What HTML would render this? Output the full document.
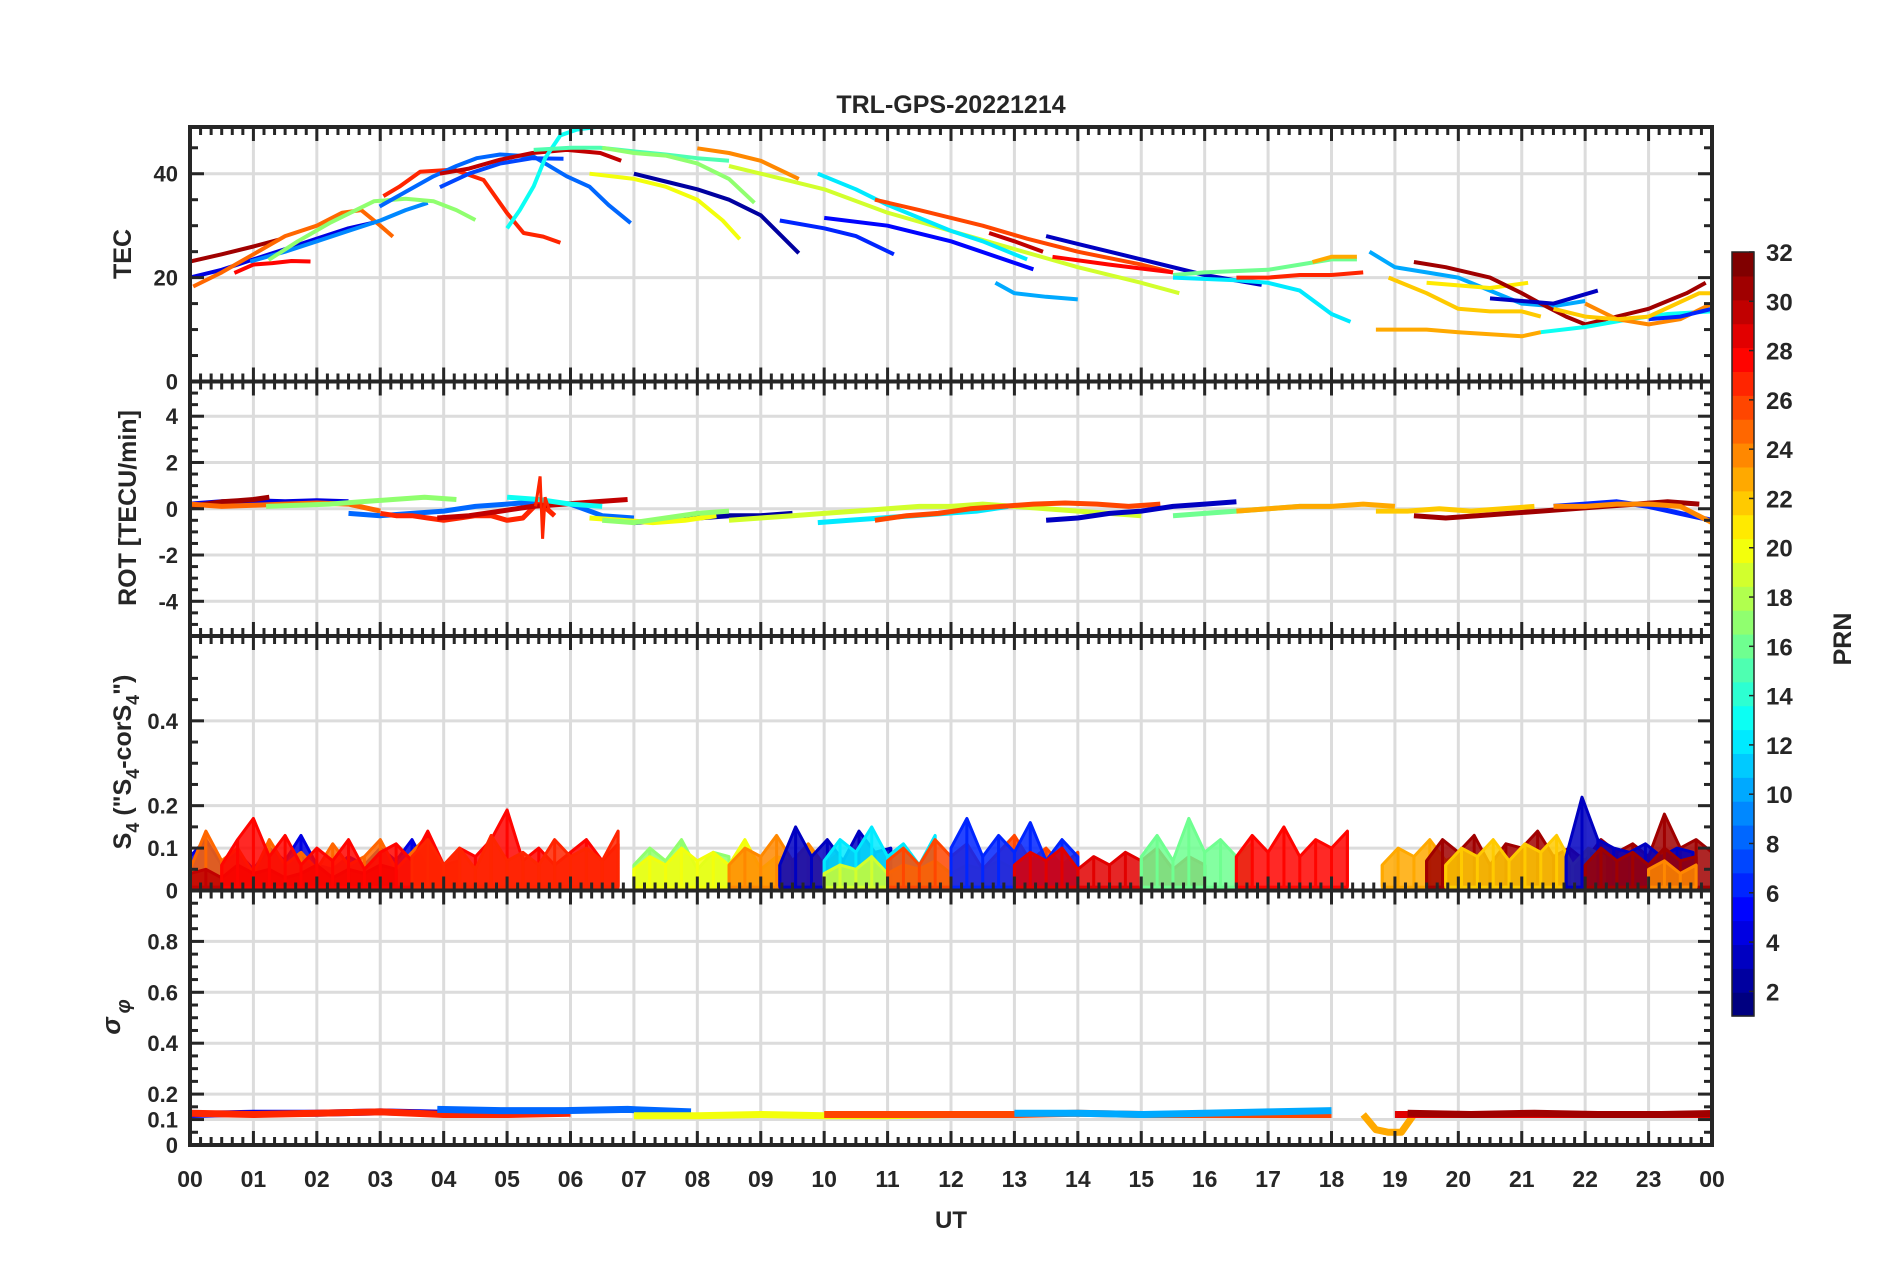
<!DOCTYPE html>
<html><head><meta charset="utf-8"><title>TRL-GPS-20221214</title>
<style>
html,body{margin:0;padding:0;background:#fff;}
svg{display:block;}
text{font-family:"Liberation Sans",Arial,sans-serif;font-weight:bold;fill:#262626;}
</style></head>
<body>
<svg id="chart" width="1902" height="1272" viewBox="0 0 1902 1272" xmlns="http://www.w3.org/2000/svg">
<rect width="1902" height="1272" fill="#fff"/>
<text x="951" y="113" text-anchor="middle" font-size="25">TRL-GPS-20221214</text>
<g id="layer"></g>
</svg>
<script>
// ---------- DATA ----------
const xTickLabels = ["00","01","02","03","04","05","06","07","08","09","10","11","12","13","14","15","16","17","18","19","20","21","22","23","00"];
const tecTicks = [0,20,40];
const rotTicks = [-4,-2,0,2,4];
const s4Ticks = [0,0.1,0.2,0.4];
const sigTicks = [0,0.1,0.2,0.4,0.6,0.8];
const prnTicks = [2,4,6,8,10,12,14,16,18,20,22,24,26,28,30,32];

const tecPrn = [31,4,25,28,9,17,27,8,7,30,13,15,20,17,2,24,19,12,6,5,26,10,30,3,28,16,12,27,23,10,23,22,21,31,3,13,24,6,22];
const tecHours = [
[0,0.5,1,1.4],
[0,0.5,1,1.5,2,2.5,2.9],
[0.05,0.5,1,1.5,2,2.4,2.7,3,3.2],
[0.7,1,1.3,1.6,1.9],
[0.95,1.5,2,2.5,3,3.4,3.75],
[1.24,1.7,2.2,2.9,3.4,3.84,4.2,4.5],
[3.05,3.3,3.63,4.16,4.63,5.0,5.26,5.57,5.84],
[2.99,3.4,3.84,4.2,4.52,4.89,5.42,5.94,6.3,6.6,6.95],
[3.94,4.4,4.9,5.4,5.89],
[3.94,4.4,4.89,5.4,5.94,6.47,6.8],
[5.0,5.2,5.42,5.6,5.84,6.1,6.4,6.75],
[5.42,6,6.47,7,7.5,8,8.5],
[6.3,7,7.5,8,8.4,8.67],
[6.5,7,7.5,8,8.5,8.9],
[7.0,7.5,8,8.5,9,9.6],
[8.0,8.5,9,9.6],
[8.5,9,10,11,12,13,14,15,15.6],
[9.9,10.5,11,12,12.5,13.2],
[9.3,10,10.5,11.1],
[10,11,12,13.3],
[10.8,11.5,12.5,13.2,14,15,15.5],
[12.7,13,13.5,14],
[12.6,13,13.45],
[13.5,14,15,16,16.9],
[13.6,14.5,15.5],
[15.5,16,17,17.5,18,18.4],
[15.5,16.5,17,17.5,18,18.3],
[16.5,17,17.5,18,18.5],
[17.7,18,18.4],
[18.6,19,19.5,20,20.5,21,21.5,22],
[18.7,19.5,20,21,21.3],
[18.9,19.5,20,20.5,21,21.3],
[19.5,20,20.5,21.1],
[19.3,19.8,20.5,21,21.3,21.7,22,22.5,23,23.6,23.9],
[20.5,21,21.5,22.2],
[21.3,22,22.7,23.3,24],
[22,22.5,23,23.5,24],
[23,23.5,24],
[21.5,22,22.5,23,23.8,24]
];
const tecValues = [
[23.1,24.5,26,27.3],
[20,21.5,23.5,25.5,27.5,29.5,30.6],
[18.3,21,24.5,28,30,32.5,33,30,27.9],
[20.9,22.5,22.8,23.2,23.1],
[23.1,25,27,29,31,33,34.4],
[23.4,27,30.5,34.7,35.2,34.7,33,31.1],
[35.7,37.5,40.4,40.8,38.8,32.4,28.6,27.9,26.7],
[33.7,36.5,39.5,41.5,43,43.7,43.3,39.5,37.5,34,30.5],
[37.4,40,42,43,42.9],
[40,41,42.7,44,44.6,44,42.5],
[29.5,33,37.6,43,47.4,48.5,49,49],
[44.6,45,45,44.3,43.7,43,42.5],
[40,39,37.5,35,31,27.4],
[45,44,43.5,42,39,34.4],
[40,38.5,37,35,32,24.7],
[44.9,44,42.5,39],
[41.5,40,37,32.5,29,25.5,22,19,17],
[40,37,34,29,27,23.5],
[31,29.5,28,24.5],
[31.5,30,27,21.6],
[35,33,30,27.5,25,22.5,21],
[19,17,16.3,15.8],
[28.6,27,25],
[28,26.5,23.5,20.5,18.6],
[24,22.5,21],
[20.5,21,21.5,22.5,23.5,23.5],
[20,19.5,19,17.5,13,11.5],
[20,20,20.5,20.5,21],
[23,24,24],
[25,22,21,20,17.5,15,14.5,15.5],
[10,10,9.5,8.7,9.5],
[20,17,14,13.5,13.5,12.5],
[19,18.5,18,19],
[23,22,20,17,15,12.5,11,12.5,14,17,19],
[16,15.5,15,17.5],
[9.5,10.5,12,13,13.5],
[15,12,11,12,15],
[12,12.5,14],
[14,12.5,12,12.5,17,17]
];

const rotPrn = [4,31,25,8,17,27,30,13,2,20,17,19,12,26,3,16,23,22,31,6,24];
const rotStart = [0,0,0,2.5,1.2,3.0,3.9,5.0,7.0,6.3,6.5,8.5,9.9,10.8,13.5,15.5,16.5,18.7,19.3,21.5,21.5];
const rotStep = [0.5,0.25,0.5,0.5,0.5,0.25,0.5,0.5,0.5,0.5,0.5,0.5,0.5,0.5,0.5,0.5,0.5,0.5,0.5,0.5,0.5];
const rotValues = [
[0.2,0.3,0.35,0.3,0.35,0.3],
[0.1,0.2,0.3,0.35,0.4,0.5],
[0.2,0.1,0.15,0.2,0.25,0.2,-0.1],
[-0.2,-0.3,-0.2,-0.1,0.1,0.2,0.3,0.2,-0.3,-0.4],
[0.1,0.15,0.2,0.3,0.4,0.5,0.4],
[-0.2,-0.3,-0.3,-0.4,-0.5,-0.4,-0.3,-0.3,-0.5,-0.4,0.3,-0.3],
[-0.4,-0.3,-0.1,0.1,0.2,0.3,0.4],
[0.5,0.4,0.2,0.1],
[-0.6,-0.5,-0.4,-0.3,-0.3,-0.2],
[-0.4,-0.5,-0.6,-0.5,-0.3],
[-0.5,-0.6,-0.4,-0.2,-0.1],
[-0.5,-0.4,-0.3,-0.2,-0.1,0,0.1,0.1,0.2,0.1,0,-0.1,-0.2,-0.3],
[-0.6,-0.5,-0.4,-0.3,-0.2,-0.1,0.1],
[-0.5,-0.3,-0.2,0,0.1,0.2,0.25,0.2,0.1,0.2],
[-0.5,-0.4,-0.2,-0.1,0.1,0.2,0.3],
[-0.3,-0.2,-0.1,0,0.1,0.1],
[-0.1,0,0.1,0.1,0.2,0.1],
[-0.1,-0.1,0,-0.1,0,0.1],
[-0.3,-0.4,-0.3,-0.2,-0.1,0,0.1,0.2,0.3,0.2],
[0.1,0.2,0.3,0.1,-0.2,-0.5],
[0.1,0.1,0.2,0.2,0.1,-0.6]
];
const rotSpikeHours = [5.45,5.52,5.56,5.6,5.66];
const rotSpikeValues = [0.1,1.4,-1.3,0.5,0.0];

const s4Prn = [4,25,30,28,27,17,20,24,3,12,19,26,6,29,16,28,23,31,22,3,31,24];
const s4Start = [0,0,0,0.5,3.5,7.0,7.0,8.5,9.3,10,10,11,12,13,15,16.5,18.8,19.5,19.8,21.7,22,23];
const s4Values = [
[0.08,0.12,0.06,0.09,0.05,0.1,0.07,0.13,0.06,0.05,0.08,0.06,0.1,0.07,0.12,0.05],
[0.05,0.14,0.07,0.1,0.04,0.12,0.06,0.09,0.05,0.11,0.06,0.08,0.12,0.05,0.09,0.13,0.06,0.07],
[0.04,0.05,0.03,0.06,0.04,0.05,0.03,0.04,0.06,0.03,0.05,0.04,0.06,0.05],
[0.06,0.12,0.17,0.08,0.13,0.06,0.1,0.07,0.12,0.05,0.09,0.11,0.07,0.14,0.06,0.1,0.08,0.12,0.19,0.07,0.1,0.06,0.09,0.12,0.07,0.11],
[0.08,0.12,0.06,0.1,0.05,0.13,0.07,0.09,0.06,0.12,0.08,0.1,0.07,0.14],
[0.06,0.1,0.07,0.12,0.05,0.09,0.08],
[0.05,0.08,0.06,0.1,0.07,0.09,0.06,0.12,0.05,0.08,0.07,0.1,0.06,0.09],
[0.06,0.1,0.08,0.13,0.07,0.11,0.06,0.09],
[0.06,0.15,0.08,0.12,0.07,0.14,0.09,0.1],
[0.07,0.12,0.09,0.15,0.08,0.11,0.06,0.13],
[0.04,0.06,0.05,0.08,0.04,0.06,0.05,0.07,0.04,0.06,0.05,0.07,0.05],
[0.07,0.1,0.06,0.12,0.08,0.11,0.05,0.09,0.13,0.07,0.1,0.06,0.09],
[0.1,0.17,0.08,0.13,0.09,0.16,0.07,0.12,0.08],
[0.06,0.09,0.07,0.1,0.05,0.08,0.06,0.09,0.07,0.1,0.05,0.08,0.06],
[0.08,0.13,0.07,0.17,0.09,0.12,0.08,0.11],
[0.08,0.13,0.09,0.15,0.08,0.12,0.1,0.14],
[0.06,0.1,0.08,0.12,0.07,0.09],
[0.07,0.12,0.09,0.13,0.06,0.11,0.1,0.14,0.08,0.1,0.07,0.12,0.09,0.11,0.08,0.18,0.1,0.12,0.09,0.11],
[0.06,0.1,0.08,0.12,0.07,0.11,0.09,0.13,0.06,0.1,0.08],
[0.08,0.22,0.12,0.1,0.09,0.11,0.08,0.1,0.09],
[0.06,0.1,0.07,0.09,0.06,0.1,0.07,0.08],
[0.05,0.07,0.04,0.06]
];
const s4Step = 0.25;

const sigPrn = [4,27,8,20,26,10,23,29,31];
const sigStart = [0,0,3.9,7,10,13,18.5,19,19.2];
const sigStep = [1,1,1,1,1,1,0.2,1,1];
const sigValues = [
[0.12,0.125,0.125,0.13,0.125],
[0.125,0.12,0.125,0.13,0.12,0.12,0.125],
[0.14,0.135,0.135,0.14,0.13],
[0.115,0.115,0.12,0.115,0.115,0.12],
[0.12,0.12,0.12,0.12,0.125,0.12,0.12,0.12,0.12],
[0.125,0.125,0.12,0.125,0.13,0.135],
[0.12,0.06,0.05,0.05,0.12],
[0.12,0.12,0.12,0.12,0.12,0.12],
[0.125,0.12,0.125,0.12,0.12,0.125]
];

// ---------- LAYOUT ----------
const NS = "http://www.w3.org/2000/svg";
const layer = document.getElementById('layer');
const X0 = 190, X1 = 1712;
const PH = 254.5;
const panels = [
  {key:'tec', top:127, min:0, max:49, majors:tecTicks, minor:5, labels:tecTicks.map(String)},
  {key:'rot', top:127+PH, min:-5.5, max:5.5, majors:rotTicks, minor:0.5, labels:rotTicks.map(String)},
  {key:'s4', top:127+2*PH, min:0, max:0.6, majors:s4Ticks, minor:0.05, labels:["0","0.1","0.2","0.4"]},
  {key:'sig', top:127+3*PH, min:0, max:1, majors:sigTicks, minor:0.05, labels:["0","0.1","0.2","0.4","0.6","0.8"]}
];
const xs = h => X0 + h/24*(X1-X0);
function ys(p, v){ return p.top + PH - (v-p.min)/(p.max-p.min)*PH; }

function jet(prn){
  const t = (prn-1)/31;
  const r = Math.min(1,Math.max(0,Math.min(4*t-1.5,-4*t+4.5)));
  const g = Math.min(1,Math.max(0,Math.min(4*t-0.5,-4*t+3.5)));
  const b = Math.min(1,Math.max(0,Math.min(4*t+0.5,-4*t+2.5)));
  return `rgb(${Math.round(r*255)},${Math.round(g*255)},${Math.round(b*255)})`;
}
function mk(tag, attrs, parent){
  const e = document.createElementNS(NS, tag);
  for (const k in attrs) e.setAttribute(k, attrs[k]);
  (parent||layer).appendChild(e);
  return e;
}

const defs = mk('defs',{});
panels.forEach((p,i)=>{
  const cp = mk('clipPath',{id:'clip'+i},defs);
  mk('rect',{x:X0,y:p.top,width:X1-X0,height:PH},cp);
});

panels.forEach((p,i)=>{
  const g = mk('g',{});
  
  
  for (let h=1; h<24; h++){
    mk('line',{x1:xs(h),x2:xs(h),y1:p.top,y2:p.top+PH,stroke:'#dcdcdc','stroke-width':3},g);
  }
  p.majors.forEach(v=>{
    if (v===p.min) return;
    mk('line',{x1:X0,x2:X1,y1:ys(p,v),y2:ys(p,v),stroke:'#dcdcdc','stroke-width':3},g);
  });
});

const tecG = mk('g',{'clip-path':'url(#clip0)'});


tecPrn.forEach((prn,i)=>{
  const pts = tecHours[i].map((h,j)=>xs(h).toFixed(1)+','+ys(panels[0],tecValues[i][j]).toFixed(1)).join(' ');
  const pl = mk('polyline',{points:pts,fill:'none',stroke:jet(prn),'stroke-width':4,'stroke-linejoin':'round'},tecG);
  
  
});

const rotG = mk('g',{'clip-path':'url(#clip1)'});


rotPrn.forEach((prn,i)=>{
  const pts = rotValues[i].map((v,j)=>xs(rotStart[i]+j*rotStep[i]).toFixed(1)+','+ys(panels[1],v).toFixed(1)).join(' ');
  const pl = mk('polyline',{points:pts,fill:'none',stroke:jet(prn),'stroke-width':5,'stroke-linejoin':'round'},rotG);
  
  
});
{
  const pts = rotSpikeHours.map((h,j)=>xs(h).toFixed(1)+','+ys(panels[1],rotSpikeValues[j]).toFixed(1)).join(' ');
  const pl = mk('polyline',{points:pts,fill:'none',stroke:jet(27),'stroke-width':3},rotG);
  
  
}

const s4G = mk('g',{'clip-path':'url(#clip2)'});


s4Prn.forEach((prn,i)=>{
  const p = panels[2];
  const vals = s4Values[i];
  const top = vals.map((v,j)=>xs(s4Start[i]+j*s4Step).toFixed(1)+','+ys(p,v).toFixed(1));
  const h0 = s4Start[i], h1 = s4Start[i]+(vals.length-1)*s4Step;
  const poly = top.concat([xs(h1).toFixed(1)+','+ys(p,0.008).toFixed(1), xs(h0).toFixed(1)+','+ys(p,0.008).toFixed(1)]).join(' ');
  const pg = mk('polygon',{points:poly,fill:jet(prn),'fill-opacity':0.85,stroke:jet(prn),'stroke-width':3,'stroke-linejoin':'round'},s4G);
  
  
  // thin spikes at each sample for texture
  vals.forEach((v,j)=>{
    const x = xs(s4Start[i]+j*s4Step);
    const ln = mk('line',{x1:x,x2:x,y1:ys(p,0.01),y2:ys(p,v),stroke:jet(prn),'stroke-width':3},s4G);
    
    
  });
});

const sigG = mk('g',{'clip-path':'url(#clip3)'});


sigPrn.forEach((prn,i)=>{
  const pts = sigValues[i].map((v,j)=>xs(sigStart[i]+j*sigStep[i]).toFixed(1)+','+ys(panels[3],v).toFixed(1)).join(' ');
  const pl = mk('polyline',{points:pts,fill:'none',stroke:jet(prn),'stroke-width':7,'stroke-linejoin':'round'},sigG);
  
  
});

const AX = '#262626';
panels.forEach((p,i)=>{
  const g = mk('g',{});
  
  
  const bot = p.top+PH;
  for (let k=0;k<=144;k++){
    const x = xs(k/6);
    const L = (k%6===0)?14:8;
    mk('line',{x1:x,x2:x,y1:bot,y2:bot-L,stroke:AX,'stroke-width':3},g);
    mk('line',{x1:x,x2:x,y1:p.top,y2:p.top+L,stroke:AX,'stroke-width':3},g);
  }
  const startV = Math.ceil(p.min/p.minor-1e-9)*p.minor;
  for (let v=startV; v<=p.max+1e-9; v+=p.minor){
    const isMaj = p.majors.some(m=>Math.abs(m-v)<1e-9);
    const L = isMaj?14:8;
    const y = ys(p,v);
    mk('line',{x1:X0,x2:X0+L,y1:y,y2:y,stroke:AX,'stroke-width':3},g);
    mk('line',{x1:X1,x2:X1-L,y1:y,y2:y,stroke:AX,'stroke-width':3},g);
  }
  mk('rect',{x:X0,y:p.top,width:X1-X0,height:PH,fill:'none',stroke:AX,'stroke-width':4},g);
  p.majors.forEach((v,j)=>{
    const t = mk('text',{x:X0-12,y:ys(p,v)+8,'text-anchor':'end','font-size':22},g);
    t.textContent = p.labels[j];
    
    
  });
});

xTickLabels.forEach((lab,k)=>{
  const t = mk('text',{x:xs(k),y:1187,'text-anchor':'middle','font-size':23});
  t.textContent = lab;
  
  
});
{
  const t = mk('text',{x:951,y:1228,'text-anchor':'middle','font-size':24});
  t.textContent = 'UT';
  
  
}

function ytitle(name, cx, cy){
  const t = mk('text',{transform:`translate(${cx},${cy}) rotate(-90)`,'text-anchor':'middle','font-size':25});
  
  
  return t;
}
ytitle('tec-y-title',131,254).textContent='TEC';
ytitle('rot-y-title',136,508).textContent='ROT [TECU/min]';
{
  const t = ytitle('s4-y-title',131,762);
  const parts = [['S',0],['4',1],[' ("S',0],['4',1],['-corS',0],['4',1],['")',0]];
  let shifted = false;
  parts.forEach(([s,sub])=>{
    const ts = mk('tspan',{},t);
    if (sub){ ts.setAttribute('dy','8'); ts.setAttribute('font-size','18'); shifted = true; }
    else if (shifted){ ts.setAttribute('dy','-8'); shifted = false; }
    ts.textContent = s;
  });
}
{
  const t = mk('text',{transform:'translate(120,1017) rotate(-90)','text-anchor':'middle','font-size':26,'font-style':'italic','font-weight':'normal','font-family':'"Liberation Serif",serif'});
  
  
  const a = mk('tspan',{},t); a.textContent='σ';
  const b = mk('tspan',{dy:'10','font-size':'20',dx:'4'},t); b.textContent='φ';
}

const CB = {x:1732, y:252, w:22, h:764, min:1, max:32};
const cbG = mk('g',{});


for (let k=0;k<32;k++){
  const y1 = CB.y + CB.h - (k+1)*CB.h/32;
  mk('rect',{x:CB.x,y:y1.toFixed(2),width:CB.w,height:(CB.h/32+0.6).toFixed(2),fill:jet(1+k)},cbG);
}
mk('rect',{x:CB.x,y:CB.y,width:CB.w,height:CB.h,fill:'none',stroke:AX,'stroke-width':1.5},cbG);
prnTicks.forEach(v=>{
  const y = CB.y + CB.h - (v-CB.min)/(CB.max-CB.min)*CB.h;
  mk('line',{x1:CB.x+CB.w-5,x2:CB.x+CB.w,y1:y,y2:y,stroke:AX,'stroke-width':1.5},cbG);
  const t = mk('text',{x:CB.x+CB.w+12,y:y+9,'font-size':24},cbG);
  t.textContent = v;
  
  
});
{
  const t = mk('text',{transform:'translate(1851,639) rotate(-90)','text-anchor':'middle','font-size':25},cbG);
  t.textContent = 'PRN';
  
  
}
</script>
</body></html>
